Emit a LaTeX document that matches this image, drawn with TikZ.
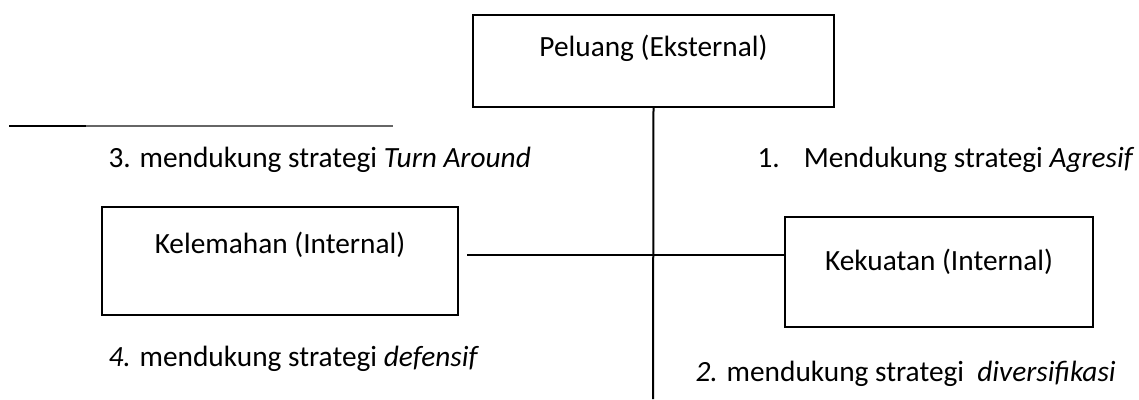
\documentclass[tikz,border=0pt]{standalone}
\usepackage{fontspec}
\setmainfont{Carlito}
\begin{document}
\begin{tikzpicture}[x=0.375pt,y=-0.375pt,
  every node/.style={font=\fontsize{11}{13}\selectfont},
  box/.style={draw,line width=0.6pt,inner sep=0pt,outer sep=0pt},
  axis/.style={line width=0.75pt},
  caption/.style={anchor=base west,inner sep=0pt},
  boxtext/.style={anchor=base,inner sep=0pt}]
\useasboundingbox (0,0) rectangle (1139,399);

% the three boxes
\node[box,minimum width=135.4pt,minimum height=34.5pt] (peluang) at (653.5,61) {};
\node[box,minimum width=133.5pt,minimum height=40.5pt] (kelemahan) at (280,261) {};
\node[box,minimum width=115.5pt,minimum height=41.25pt] (kekuatan) at (939,272) {};

\node[boxtext] (tPeluang) at (653.5,56) {Peluang (Eksternal)};
\node[boxtext] (tKelemahan) at (280,253) {Kelemahan (Internal)};
\node[boxtext] (tKekuatan) at (939,270) {Kekuatan (Internal)};

% axes
\coordinate (bottom) at (653,399);
\coordinate (hstart) at (467,255);
\draw[axis] (peluang.south) -- (bottom);
\draw[axis] (hstart) -- (hstart -| kekuatan.west);

% short rule at the top left
\coordinate (r0) at (9,126);
\coordinate (r1) at (86,126);
\coordinate (r2) at (393,126);
\draw[line width=1.1pt] (r0) -- (r1);
\draw[line width=0.4pt,black!60] (r1) -- (r2);

% quadrant captions
\node[caption] (q3) at (108,167) {3. mendukung strategi \textit{Turn Around}};
\node[caption] (q1) at (757,167) {1.\hspace{9pt}Mendukung strategi \textit{Agresif}};
\node[caption] (q4) at (108,366) {\textit{4.} mendukung strategi \textit{defensif}};
\node[caption] (q2) at (695,381) {\textit{2.} mendukung strategi\ \ \textit{diversifikasi}};
\end{tikzpicture}
\end{document}
